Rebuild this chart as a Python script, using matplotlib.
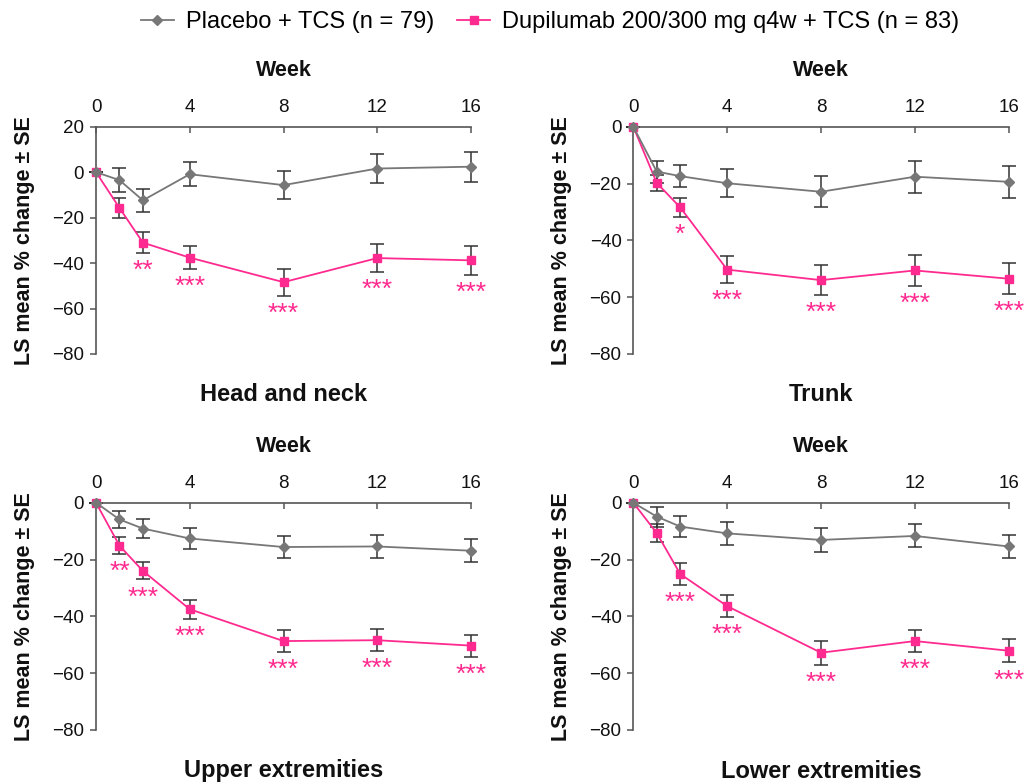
"""
plot.py
=======
Variação percentual (LS mean ± SE) por região do corpo ao longo de 16 semanas:
Placebo + TCS vs Dupilumab 200/300 mg q4w + TCS.

Saída: out.png
"""

import matplotlib.pyplot as plt

# ── Dados ─────────────────────────────────────────────────────────────────────
WEEKS = [0, 1, 2, 4, 8, 12, 16]

REGIONS = ["Head and neck", "Trunk", "Upper extremities", "Lower extremities"]

PLACEBO_MEAN = [
    [0, -3.5, -12.4, -0.9, -5.7, 1.6, 2.4],
    [0, -15.8, -17.4, -19.9, -22.9, -17.6, -19.4],
    [0, -5.9, -9.1, -12.6, -15.6, -15.4, -16.9],
    [0, -4.9, -8.4, -10.8, -13.1, -11.7, -15.4],
]
PLACEBO_SE = [
    [0, 5.2, 5.0, 5.3, 6.0, 6.2, 6.6],
    [0, 3.9, 3.8, 5.0, 5.5, 5.6, 5.7],
    [0, 3.1, 3.3, 3.6, 4.0, 3.9, 4.1],
    [0, 3.5, 3.7, 4.1, 4.35, 4.05, 4.2],
]

DUPI_MEAN = [
    [0, -15.7, -31.0, -37.6, -48.4, -37.8, -38.8],
    [0, -19.8, -28.4, -50.3, -54.0, -50.6, -53.5],
    [0, -15.1, -24.0, -37.5, -48.7, -48.4, -50.3],
    [0, -10.7, -25.1, -36.4, -52.8, -48.7, -52.1],
]
DUPI_SE = [
    [0, 4.5, 4.6, 5.1, 6.0, 6.0, 6.4],
    [0, 2.8, 3.4, 4.8, 5.3, 5.5, 5.4],
    [0, 2.9, 3.0, 3.4, 3.8, 3.85, 3.9],
    [0, 3.2, 3.8, 3.8, 4.15, 3.9, 4.1],
]

SIGNIF = [
    ["", "", "**", "***", "***", "***", "***"],
    ["", "", "*", "***", "***", "***", "***"],
    ["", "**", "***", "***", "***", "***", "***"],
    ["", "", "***", "***", "***", "***", "***"],
]

Y_LIMITS = [(-80, 20), (-80, 0), (-80, 0), (-80, 0)]
X_TICKS = [0, 4, 8, 12, 16]

LABEL_PLACEBO = "Placebo + TCS (n = 79)"
LABEL_DUPI = "Dupilumab 200/300 mg q4w + TCS (n = 83)"

# ── Paleta ────────────────────────────────────────────────────────────────────
COLORS = {
    "placebo": "#777777",
    "dupi":    "#FF2A8F",
    "errbar":  "#333333",
    "axis":    "#555555",
    "text":    "#111111",
}

plt.rcParams["font.family"] = ["Liberation Sans", "DejaVu Sans"]

# posições dos painéis em pixels (esq, x=16, topo, base)
PANEL_PX = [
    (96, 471, 126.7, 354),
    (633.3, 1008.7, 126.7, 354),
    (96, 471, 502.7, 730),
    (633.3, 1008.7, 502.7, 730),
]
W, H = 1024, 784


def draw_panel(ax, i):
    x = WEEKS
    ax.errorbar(x, PLACEBO_MEAN[i], yerr=PLACEBO_SE[i], fmt="none",
                ecolor=COLORS["errbar"], elinewidth=1.1, capsize=5,
                capthick=1.1, zorder=2, clip_on=False)
    ax.errorbar(x, DUPI_MEAN[i], yerr=DUPI_SE[i], fmt="none",
                ecolor=COLORS["errbar"], elinewidth=1.1, capsize=5,
                capthick=1.1, zorder=2, clip_on=False)
    ax.plot(x, DUPI_MEAN[i], color=COLORS["dupi"], lw=1.3, marker="s",
            markersize=5.5, zorder=3, clip_on=False, label=LABEL_DUPI)
    ax.plot(x, PLACEBO_MEAN[i], color=COLORS["placebo"], lw=1.3, marker="D",
            markersize=5, zorder=4, clip_on=False, label=LABEL_PLACEBO)

    # marcadores de significância abaixo da barra de erro inferior
    for wk, m, se, s in zip(x, DUPI_MEAN[i], DUPI_SE[i], SIGNIF[i]):
        if s:
            ax.annotate(s, xy=(wk, m - se), xytext=(0, -18),
                        textcoords="offset points", ha="center", va="baseline",
                        color=COLORS["dupi"], fontsize=19,
                        annotation_clip=False)

    ax.set_xlim(0, 16)
    ax.set_ylim(*Y_LIMITS[i])
    ax.set_yticks(range(Y_LIMITS[i][0], Y_LIMITS[i][1] + 1, 20))
    ax.set_xticks(X_TICKS)

    for side in ("right", "bottom"):
        ax.spines[side].set_visible(False)
    for side in ("left", "top"):
        ax.spines[side].set_color(COLORS["axis"])
        ax.spines[side].set_linewidth(1.2)

    ax.xaxis.set_ticks_position("top")
    ax.tick_params(axis="x", direction="in", length=4, width=1.1,
                   color=COLORS["axis"], labelsize=13.5, pad=8,
                   labelcolor=COLORS["text"])
    ax.tick_params(axis="y", direction="out", length=4.5, width=1.1,
                   color=COLORS["axis"], labelsize=13.5, pad=4,
                   labelcolor=COLORS["text"])

    l, r, t, b = PANEL_PX[i]
    aw, ah = r - l, b - t
    ax.text(0.5, 1 + (t - 70 - (0 if i < 2 else 377)) / ah, "Week",
            transform=ax.transAxes, ha="center", va="center",
            fontsize=15.5, fontweight="bold", color=COLORS["text"])
    ax.text((25 + (0 if i % 2 == 0 else 537) - l) / aw, 0.5,
            "LS mean % change ± SE", transform=ax.transAxes, rotation=90,
            ha="center", va="center", fontsize=15.5, fontweight="bold",
            color=COLORS["text"])
    ax.text(0.5, -41 / ah, REGIONS[i], transform=ax.transAxes,
            ha="center", va="center", fontsize=17, fontweight="bold",
            color=COLORS["text"])


fig = plt.figure(figsize=(W / 100, H / 100), dpi=100)
axes = []
for i, (l, r, t, b) in enumerate(PANEL_PX):
    ax = fig.add_axes([l / W, 1 - b / H, (r - l) / W, (b - t) / H])
    draw_panel(ax, i)
    axes.append(ax)

handles, labels = axes[0].get_legend_handles_labels()
fig.legend(handles[::-1], labels[::-1], loc="center", ncol=2,
           bbox_to_anchor=(550 / W, 1 - 22 / H), frameon=False, fontsize=17,
           handlelength=1.4, handletextpad=0.5, columnspacing=1.0)

fig.savefig("out.png", dpi=100)
